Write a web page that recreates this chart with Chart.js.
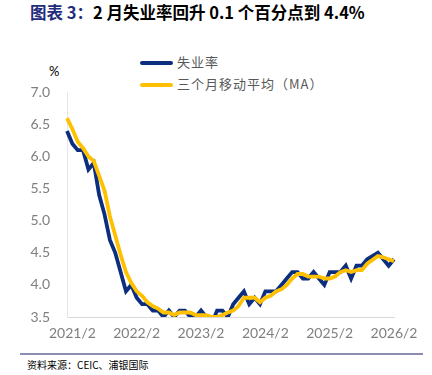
<!DOCTYPE html>
<html>
<head>
<meta charset="utf-8">
<script src="https://cdn.jsdelivr.net/npm/chart.js@4"></script>
<style>
  body { margin: 0; width: 432px; height: 375px; background: #fff; position: relative; overflow: hidden; font-family: "Noto Sans CJK SC", sans-serif; }
  #title { position: absolute; left: 30px; top: 0px; font-size: 16.5px; font-weight: bold; color: #000; white-space: nowrap; }
  #title span { color: #1f2d7c; }
  #legend { position: absolute; left: 140px; top: 51px; font-size: 13px; color: #595959; letter-spacing: 1px; }
  .item { height: 22px; line-height: 22px; white-space: nowrap; }
  .swatch { display: inline-block; width: 33px; height: 4px; border-radius: 2px; vertical-align: middle; margin-right: 4px; }
  #pct { position: absolute; left: 49px; top: 63px; font-family: Lato, sans-serif; font-size: 13px; color: #000; }
  #wrap { position: absolute; left: 0; top: 67px; width: 432px; height: 278px; }
  #rule { position: absolute; left: 20px; top: 353px; width: 403px; height: 2px; background: #8a8cb3; }
  #source { position: absolute; left: 27px; top: 357px; font-size: 10px; color: #000; }
</style>
</head>
<body>
<div id="title"><span>图表 3：</span>2 月失业率回升 0.1 个百分点到 4.4%</div>
<div id="legend"></div>
<div id="pct">%</div>
<div id="wrap"><canvas id="unemploymentChart"></canvas></div>
<div id="rule"></div>
<div id="source">资料来源：CEIC、浦银国际</div>
<script>
const months = [];
for (let y = 2021; y <= 2026; y++) {
    for (let m = 1; m <= 12; m++) {
        if (y === 2026 && m > 2) break;
        months.push(`${y}/${m}`);
    }
}

// 失业率, 2021/1 - 2026/2 (2025/10 missing)
const unemployment = [
    6.4, 6.2, 6.1, 6.1, 5.8, 5.9, 5.4, 5.1, 4.7, 4.5, 4.2, 3.9,
    4.0, 3.8, 3.7, 3.7, 3.6, 3.6, 3.5, 3.6, 3.5, 3.6, 3.6, 3.5,
    3.5, 3.6, 3.5, 3.4, 3.6, 3.6, 3.5, 3.7, 3.8, 3.9, 3.7, 3.8,
    3.7, 3.9, 3.9, 3.9, 4.0, 4.1, 4.2, 4.2, 4.1, 4.1, 4.2, 4.1,
    4.0, 4.2, 4.2, 4.2, 4.3, 4.1, 4.3, 4.3, 4.4, null, 4.5, 4.4,
    4.3, 4.4
];

// 三个月移动平均（MA）
const movingAvg = [
    6.60, 6.43, 6.23, 6.13, 6.00, 5.93, 5.70, 5.47, 5.07, 4.77, 4.47, 4.20,
    4.03, 3.90, 3.83, 3.73, 3.67, 3.63, 3.57, 3.57, 3.53, 3.57, 3.57, 3.57,
    3.53, 3.53, 3.53, 3.50, 3.50, 3.53, 3.57, 3.60, 3.67, 3.80, 3.80, 3.80,
    3.73, 3.80, 3.83, 3.90, 3.93, 4.00, 4.10, 4.17, 4.17, 4.13, 4.13, 4.13,
    4.10, 4.10, 4.13, 4.20, 4.23, 4.20, 4.23, 4.23, 4.33, null, 4.45, 4.43,
    4.40, 4.37
];

const seriesNames = ['失业率', '三个月移动平均（MA）'];
const seriesColors = ['#0b2e7e', '#ffc000'];

const legend = document.getElementById('legend');
seriesNames.forEach((name, i) => {
    legend.innerHTML += `<div class="item"><span class="swatch" style="background:${seriesColors[i]}"></span>${name}</div>`;
});

new Chart(document.getElementById('unemploymentChart'), {
    type: 'line',
    data: {
        labels: months,
        datasets: [{
            label: seriesNames[0],
            data: unemployment,
            borderColor: seriesColors[0],
            borderWidth: 3.8,
            pointRadius: 0,
            spanGaps: true,
            order: 1
        }, {
            label: seriesNames[1],
            data: movingAvg,
            borderColor: seriesColors[1],
            borderWidth: 3.8,
            pointRadius: 0,
            spanGaps: true,
            order: 0
        }]
    },
    options: {
        responsive: true,
        maintainAspectRatio: false,
        animation: false,
        layout: { padding: { top: 11, right: 38, left: 0, bottom: 0 } },
        plugins: { legend: { display: false }, tooltip: { enabled: false } },
        scales: {
            x: {
                offset: false,
                grid: { display: false, drawTicks: false },
                border: { color: '#d9d9d9', width: 1 },
                afterFit: (scale) => { scale.height = 28; },
                ticks: {
                    autoSkip: false,
                    maxRotation: 0,
                    padding: 8,
                    color: '#7f7f7f',
                    font: { family: 'Lato', size: 14 },
                    callback: function (value, index) {
                        return (index - 1) % 12 === 0 ? this.getLabelForValue(value) : '';
                    }
                }
            },
            y: {
                min: 3.5,
                max: 7.0,
                grid: { display: false, drawTicks: false },
                border: { color: '#e6e6e6', width: 1 },
                afterFit: (scale) => { scale.width = 67; },
                ticks: {
                    stepSize: 0.5,
                    padding: 17,
                    color: '#7f7f7f',
                    font: { family: 'Lato', size: 14 },
                    callback: (v) => v.toFixed(1)
                }
            }
        }
    }
});
</script>
</body>
</html>
